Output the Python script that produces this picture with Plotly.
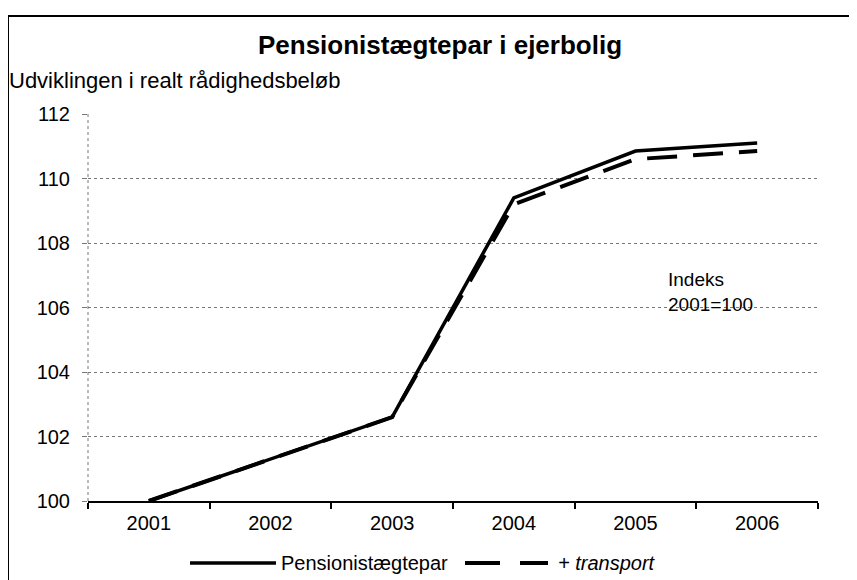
import plotly.graph_objects as go

years = ["2001", "2002", "2003", "2004", "2005", "2006"]
pensionist = [100.0, 101.3, 102.6, 109.4, 110.85, 111.1]
transport = [100.0, 101.3, 102.6, 109.2, 110.6, 110.85]
y_ticks = [100, 102, 104, 106, 108, 110, 112]

FONT = "Liberation Sans, Arial, sans-serif"
SOLID = dict(color="black", width=3.5)
DASHED = dict(color="black", width=4, dash="30px,16px")

# plot area on screen: x 88..818, y 114..501 (page body adds an 8px offset)
def px(sx):
    return (sx - 88) / 730


def py(sy):
    return (501 - sy) / 387


fig = go.Figure()
fig.add_trace(go.Scatter(x=years, y=pensionist, mode="lines", name="Pensionistægtepar", line=SOLID))
fig.add_trace(go.Scatter(x=years, y=transport, mode="lines", name="+ transport", line=DASHED))

fig.update_layout(
    width=857, height=580,
    margin=dict(l=80, r=47, t=106, b=87),
    paper_bgcolor="white", plot_bgcolor="white",
    font=dict(family=FONT, size=20, color="black"),
    title=dict(text="<b>Pensionistægtepar i ejerbolig</b>", x=(440 - 8) / 857, xanchor="center",
               y=1 - 37 / 580, yanchor="middle", font=dict(size=26)),
    showlegend=False,
)
fig.update_xaxes(
    type="category", range=[-0.5, 5.5], tickson="boundaries", automargin=False,
    ticks="outside", ticklen=6, tickcolor="black", tickwidth=1.5,
    showline=True, linecolor="black", linewidth=2,
    showgrid=False, zeroline=False, ticklabelstandoff=3,
)
fig.update_yaxes(
    range=[100, 112], tickvals=y_ticks, ticks="outside", ticklen=5, automargin=False,
    tickcolor="#777", showgrid=True, gridcolor="#777", griddash="dot", gridwidth=1,
    zeroline=False, showline=False, ticklabelstandoff=8,
)

# dotted left axis line
fig.add_shape(type="line", xref="paper", yref="paper", x0=0, x1=0, y0=0, y1=1,
              line=dict(color="#777", width=1, dash="dot"))
# outer frame
fig.add_shape(type="rect", xref="paper", yref="paper",
              x0=px(8), x1=px(880), y0=py(600), y1=py(16),
              line=dict(color="black", width=2), layer="below")

fig.add_annotation(text="Udviklingen i realt rådighedsbeløb", xref="paper", yref="paper",
                   x=px(7), y=py(80), xanchor="left", yanchor="middle",
                   showarrow=False, font=dict(size=22))
fig.add_annotation(text="Indeks<br>2001=100", xref="paper", yref="paper",
                   x=px(666), y=py(292), xanchor="left", yanchor="middle",
                   align="left", showarrow=False, font=dict(size=19))

# legend drawn by hand to get the long line samples
leg_y = py(563)
fig.add_shape(type="line", xref="paper", yref="paper", x0=px(190), x1=px(276), y0=leg_y, y1=leg_y,
              line=SOLID)
fig.add_annotation(text="Pensionistægtepar", xref="paper", yref="paper", x=px(279), y=leg_y,
                   xanchor="left", yanchor="middle", showarrow=False, font=dict(size=20))
fig.add_shape(type="line", xref="paper", yref="paper", x0=px(465), x1=px(548), y0=leg_y, y1=leg_y,
              line=dict(color="black", width=4, dash="35px,20px"))
fig.add_annotation(text="<i>+ transport</i>", xref="paper", yref="paper", x=px(556), y=leg_y,
                   xanchor="left", yanchor="middle", showarrow=False, font=dict(size=20))

fig.write_html("out.html")
